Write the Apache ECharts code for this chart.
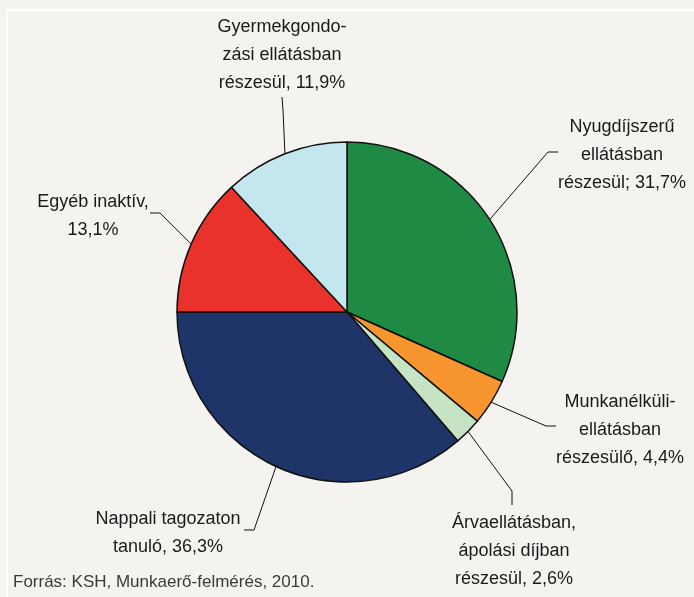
<!DOCTYPE html>
<html>
<head>
<meta charset="utf-8">
<style>
  html, body { margin: 0; padding: 0; background: #f5f3f0; }
  #main { width: 694px; height: 597px; }
</style>
<script src="https://cdn.jsdelivr.net/npm/echarts@6/dist/echarts.min.js"></script>
</head>
<body>
<div id="main"></div>
<script>
// adatok (KSH, Munkaerő-felmérés, 2010)
var names = [
  'Nyugdíjszerű\nellátásban\nrészesül',
  'Munkanélküli-\nellátásban\nrészesülő',
  'Árvaellátásban,\nápolási díjban\nrészesül',
  'Nappali tagozaton\ntanuló',
  'Egyéb inaktív',
  'Gyermekgondo-\nzási ellátásban\nrészesül'
];
var seps = ['; ', ', ', ', ', ', ', ',\n', ', '];
var values = [31.7, 4.4, 2.6, 36.3, 13.1, 11.9];
var colors = ['#1f8a43', '#f7962f', '#c6e4c4', '#1f3569', '#e8322b', '#c4e7ef'];

// label placement (center of text block) and leader line bends, relative to it
var labelPos = [[622, 155], [620, 430], [514, 551], [168, 533], [93, 216], [282, 55]];
var leaderBend = [
  [[-74, -3], [-64, -3]],
  [[-74, -4], [-64, -4]],
  [[-2, -60], [-2, -46]],
  [[86, -3], [76, -3]],
  [[67, -3], [57, -3]],
  [[1, 55], [0, 42]]
];

var font = '"Liberation Sans Narrow", "Arial Narrow", "Liberation Sans", sans-serif';

var myChart = echarts.init(document.getElementById('main'));
myChart.setOption({
  backgroundColor: '#f5f3f0',
  animation: false,
  graphic: [{
    type: 'line',
    shape: { x1: 7, y1: 10, x2: 694, y2: 10 },
    style: { stroke: '#ffffff', lineWidth: 2 }
  }, {
    type: 'line',
    shape: { x1: 7, y1: 10, x2: 7, y2: 597 },
    style: { stroke: '#ffffff', lineWidth: 2 }
  }, {
    type: 'text',
    left: 13,
    top: 574,
    style: {
      text: 'Forrás: KSH, Munkaerő-felmérés, 2010.',
      fill: '#3a3a3a',
      font: '17px ' + font
    }
  }],
  series: [{
    type: 'pie',
    center: [347, 312],
    radius: [0, 170],
    startAngle: 90,
    clockwise: true,
    avoidLabelOverlap: false,
    itemStyle: {
      borderColor: '#111',
      borderWidth: 1.5
    },
    label: {
      show: true,
      position: 'outside',
      color: '#1a1a1a',
      fontSize: 18,
      lineHeight: 28,
      fontFamily: font,
      align: 'center',
      formatter: function(p) {
        return p.name + seps[p.dataIndex] + p.value.toFixed(1).replace('.', ',') + '%';
      }
    },
    labelLine: {
      show: true,
      lineStyle: { color: '#111', width: 1 }
    },
    labelLayout: function(params) {
      var i = params.dataIndex;
      var pos = labelPos[i];
      var start = params.labelLinePoints ? params.labelLinePoints[0] : pos;
      var b = leaderBend[i];
      return {
        x: pos[0],
        y: pos[1],
        align: 'center',
        verticalAlign: 'middle',
        labelLinePoints: [
          start,
          [pos[0] + b[0][0], pos[1] + b[0][1]],
          [pos[0] + b[1][0], pos[1] + b[1][1]]
        ]
      };
    },
    data: names.map(function(n, i) {
      return { name: n, value: values[i], itemStyle: { color: colors[i] } };
    })
  }]
});
</script>
</body>
</html>
